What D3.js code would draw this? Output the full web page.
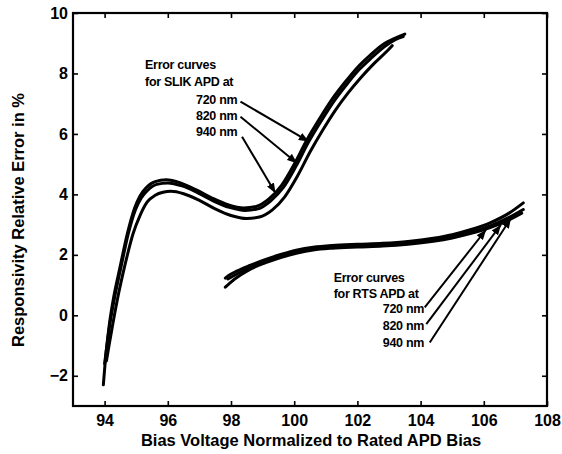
<!DOCTYPE html>
<html>
<head>
<meta charset="utf-8">
<script src="https://cdn.jsdelivr.net/npm/d3@7"></script>
<style>
  body { margin: 0; background: #fff; }
  text { font-family: "Liberation Sans", Arial, Helvetica, sans-serif; font-weight: bold; fill: #000; }
</style>
</head>
<body>
<div id="chart"></div>
<script>
// SLIK APD error curves (x = normalized bias, y = error %)
var slik720X = [93.96, 94.05, 94.15, 94.27, 94.49, 94.72, 94.95, 95.12, 95.3, 95.6, 95.95, 96.4, 96.9, 97.4, 97.9, 98.4, 98.8, 99.2, 99.6, 100.0, 100.4, 100.8, 101.2, 101.6, 102.0, 102.4, 102.8, 103.2, 103.5];
var slik720Y = [-2.3, -1.2, -0.3, 0.5, 1.6, 2.7, 3.55, 3.95, 4.2, 4.42, 4.48, 4.38, 4.15, 3.88, 3.66, 3.55, 3.6, 3.85, 4.3, 5.0, 5.8, 6.5, 7.15, 7.7, 8.2, 8.6, 8.95, 9.17, 9.3];
var slik820X = [94.0, 94.08, 94.18, 94.3, 94.52, 94.75, 94.98, 95.16, 95.35, 95.65, 96.0, 96.45, 96.95, 97.45, 97.95, 98.45, 98.85, 99.25, 99.65, 100.05, 100.45, 100.85, 101.25, 101.65, 102.05, 102.45, 102.85, 103.2, 103.45];
var slik820Y = [-1.6, -0.95, -0.2, 0.5, 1.6, 2.7, 3.5, 3.88, 4.12, 4.33, 4.38, 4.28, 4.05, 3.78, 3.57, 3.47, 3.52, 3.78, 4.22, 4.92, 5.72, 6.42, 7.07, 7.62, 8.12, 8.52, 8.88, 9.12, 9.22];
var slik940X = [94.06, 94.14, 94.24, 94.4, 94.63, 94.9, 95.12, 95.35, 95.6, 95.85, 96.1, 96.5, 97.0, 97.5, 98.0, 98.5, 98.9, 99.3, 99.7, 100.1, 100.5, 100.9, 101.3, 101.7, 102.1, 102.5, 102.9, 103.1];
var slik940Y = [-1.5, -1.0, -0.4, 0.5, 1.6, 2.7, 3.3, 3.75, 3.97, 4.07, 4.1, 4.02, 3.8, 3.52, 3.3, 3.2, 3.25, 3.48, 3.92, 4.6, 5.4, 6.12, 6.78, 7.35, 7.85, 8.3, 8.7, 8.92];

// RTS APD error curves
var rts720X = [97.82, 97.95, 98.2, 98.6, 99.1, 99.6, 100.1, 100.6, 101.2, 102.0, 102.8, 103.6, 104.4, 105.0, 105.6, 106.2, 106.8, 107.25];
var rts720Y = [1.23, 1.33, 1.47, 1.65, 1.85, 2.02, 2.16, 2.25, 2.31, 2.35, 2.38, 2.44, 2.55, 2.67, 2.84, 3.06, 3.38, 3.72];
var rts820X = [97.9, 98.0, 98.25, 98.6, 99.1, 99.6, 100.1, 100.6, 101.2, 102.0, 102.8, 103.6, 104.4, 105.0, 105.6, 106.2, 106.8, 107.25];
var rts820Y = [1.2, 1.26, 1.4, 1.58, 1.79, 1.96, 2.1, 2.2, 2.26, 2.3, 2.33, 2.39, 2.49, 2.6, 2.76, 2.96, 3.24, 3.5];
var rts940X = [97.82, 98.0, 98.3, 98.6, 99.1, 99.6, 100.1, 100.6, 101.2, 102.0, 102.8, 103.6, 104.4, 105.0, 105.6, 106.2, 106.8, 107.2];
var rts940Y = [0.93, 1.1, 1.33, 1.52, 1.74, 1.92, 2.06, 2.16, 2.22, 2.26, 2.29, 2.35, 2.45, 2.56, 2.71, 2.9, 3.16, 3.38];

var xTicks = [94, 96, 98, 100, 102, 104, 106, 108];
var yTicks = [-2, 0, 2, 4, 6, 8, 10];

// annotation text: [x, y, label, anchor]
var slikNotes = [
  [95.28, 8.15, "Error curves", "start"],
  [95.28, 7.57, "for SLIK APD at", "start"],
  [98.2, 6.99, "720 nm", "end"],
  [98.2, 6.46, "820 nm", "end"],
  [98.2, 5.92, "940 nm", "end"]
];
var rtsNotes = [
  [101.25, 1.11, "Error curves", "start"],
  [101.25, 0.58, "for RTS APD at", "start"],
  [104.11, 0.08, "720 nm", "end"],
  [104.11, -0.48, "820 nm", "end"],
  [104.11, -1.04, "940 nm", "end"]
];
// arrows: [x1, y1, x2, y2]
var arrows = [
  [98.30, 7.07, 100.46, 5.75],
  [98.30, 6.57, 100.09, 5.03],
  [98.35, 5.91, 99.41, 4.04],
  [104.13, 0.26, 106.07, 2.83],
  [104.18, -0.29, 106.54, 2.99],
  [104.29, -0.9, 106.86, 3.21]
];

var svgWidth = 562;
var svgHeight = 454;
var margin = { top: 13, right: 15, bottom: 48, left: 73 };
var width = svgWidth - margin.left - margin.right;
var height = svgHeight - margin.top - margin.bottom;

var svg = d3.select("#chart")
  .append("svg")
  .attr("width", svgWidth)
  .attr("height", svgHeight);

svg.append("defs").append("marker")
  .attr("id", "head")
  .attr("markerUnits", "userSpaceOnUse")
  .attr("markerWidth", 11)
  .attr("markerHeight", 8)
  .attr("refX", 10)
  .attr("refY", 4)
  .attr("orient", "auto")
  .append("path")
  .attr("d", "M0,0 L10,4 L0,8 Z")
  .attr("fill", "#000");

var chartGroup = svg.append("g")
  .attr("transform", `translate(${margin.left}, ${margin.top})`);

var xScale = d3.scaleLinear().domain([93, 108]).range([0, width]);
var yScale = d3.scaleLinear().domain([-3, 10]).range([height, 0]);

// axes with inward ticks
var bottomAxis = d3.axisBottom(xScale).tickValues(xTicks).tickSize(-5).tickPadding(9);
var leftAxis = d3.axisLeft(yScale).tickValues(yTicks).tickSize(-5).tickPadding(5);
var topAxis = d3.axisTop(xScale).tickValues(xTicks).tickSize(-5).tickFormat("");
var rightAxis = d3.axisRight(yScale).tickValues(yTicks).tickSize(-5).tickFormat("");

function styleAxis(g) {
  g.select(".domain").remove();
  g.selectAll(".tick line").attr("stroke", "#000").attr("stroke-width", 1.6);
  g.selectAll(".tick text").attr("font-size", "16px").attr("font-family", "Liberation Sans, Arial, sans-serif").attr("font-weight", "bold");
}

chartGroup.append("g").attr("transform", `translate(0, ${height})`).call(bottomAxis).call(styleAxis);
chartGroup.append("g").call(leftAxis).call(styleAxis);
chartGroup.append("g").call(topAxis).call(styleAxis);
chartGroup.append("g").attr("transform", `translate(${width}, 0)`).call(rightAxis).call(styleAxis);

chartGroup.append("rect")
  .attr("width", width)
  .attr("height", height)
  .attr("fill", "none")
  .attr("stroke", "#000")
  .attr("stroke-width", 2.2);

// arrows first, curves on top
chartGroup.selectAll(".arrow")
  .data(arrows)
  .enter()
  .append("line")
  .attr("class", "arrow")
  .attr("x1", d => xScale(d[0]))
  .attr("y1", d => yScale(d[1]))
  .attr("x2", d => xScale(d[2]))
  .attr("y2", d => yScale(d[3]))
  .attr("stroke", "#000")
  .attr("stroke-width", 2)
  .attr("marker-end", "url(#head)");

var line = d3.line()
  .x(d => xScale(d[0]))
  .y(d => yScale(d[1]))
  .curve(d3.curveMonotoneX);

var series = [
  [slik720X, slik720Y],
  [slik820X, slik820Y],
  [slik940X, slik940Y],
  [rts720X, rts720Y],
  [rts820X, rts820Y],
  [rts940X, rts940Y]
];

chartGroup.selectAll(".curve")
  .data(series)
  .enter()
  .append("path")
  .attr("class", "curve")
  .attr("d", d => line(d[0].map((x, i) => [x, d[1][i]])))
  .attr("fill", "none")
  .attr("stroke", "#000")
  .attr("stroke-width", 3)
  .attr("stroke-linecap", "round");

chartGroup.selectAll(".note")
  .data(slikNotes.concat(rtsNotes))
  .enter()
  .append("text")
  .attr("class", "note")
  .attr("x", d => xScale(d[0]))
  .attr("y", d => yScale(d[1]))
  .attr("text-anchor", d => d[3])
  .attr("font-size", "12.5px")
  .attr("letter-spacing", "-0.3px")
  .text(d => d[2]);

// axis labels
chartGroup.append("text")
  .attr("transform", "rotate(-90)")
  .attr("x", 0 - 207)
  .attr("y", 0 - margin.left + 24)
  .attr("text-anchor", "middle")
  .attr("font-size", "16.5px")
  .text("Responsivity Relative Error in %");

chartGroup.append("text")
  .attr("x", 238)
  .attr("y", height + 40)
  .attr("text-anchor", "middle")
  .attr("font-size", "16.5px")
  .text("Bias Voltage Normalized to Rated APD Bias");
</script>
</body>
</html>
